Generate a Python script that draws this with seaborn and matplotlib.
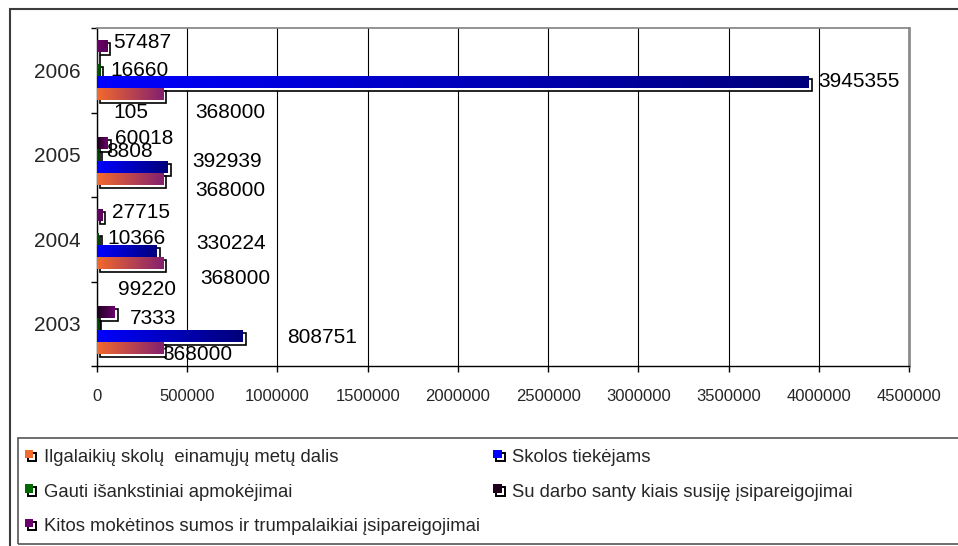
import numpy as np
import pandas as pd
import matplotlib
matplotlib.use('Agg')
import matplotlib.pyplot as plt
import matplotlib.transforms as mtransforms
import seaborn as sns
from matplotlib.patches import Rectangle
from matplotlib.colors import LinearSegmentedColormap, to_hex
from matplotlib.legend_handler import HandlerBase

# data (years listed top to bottom, as in the chart)
years = ['2006', '2005', '2004', '2003']
ilgalaikiu = [368000, 368000, 368000, 368000]
skolos = [3945355, 392939, 330224, 808751]
gauti = [16660, 8808, 10366, 7333]
su_darbo = [105, 60018, np.nan, 99220]
kitos = [57487, np.nan, 27715, np.nan]

names = {
    'ilg': 'Ilgalaikių skolų  einamųjų metų dalis',
    'sko': 'Skolos tiekėjams',
    'gau': 'Gauti išankstiniai apmokėjimai',
    'sud': 'Su darbo santy kiais susiję įsipareigojimai',
    'kit': 'Kitos mokėtinos sumos ir trumpalaikiai įsipareigojimai',
}
values = {'ilg': ilgalaikiu, 'sko': skolos, 'gau': gauti, 'sud': su_darbo, 'kit': kitos}
x_ticks = [0, 500000, 1000000, 1500000, 2000000, 2500000, 3000000, 3500000, 4000000, 4500000]

# gradient colours (left -> right) for each series
grads = {
    'ilg': ['#f26a2c', '#84206f'],
    'sko': ['#0000ff', '#00007a'],
    'gau': ['#006a00', '#003a00'],
    'sud': ['#1c001c', '#6e006e'],
    'kit': ['#6a006a', '#560056'],
}
bar_order = ['kit', 'sud', 'gau', 'sko', 'ilg']   # top to bottom inside a year

# where Excel put each value label: pixels right of bar end, pixels below bar centre
label_offsets = {
    ('kit', '2006'): (6, -4), ('gau', '2006'): (10, 0), ('sko', '2006'): (9, -1),
    ('sud', '2006'): (16, 54), ('ilg', '2006'): (32, 18),
    ('sud', '2005'): (7, -4), ('gau', '2005'): (8, -3), ('sko', '2005'): (24, -5),
    ('ilg', '2005'): (32, 12),
    ('kit', '2004'): (10, -3), ('gau', '2004'): (9, -1), ('sko', '2004'): (40, -8),
    ('ilg', '2004'): (37, 15),
    ('sud', '2003'): (3, -22), ('gau', '2003'): (32, -5), ('sko', '2003'): (44, 2),
    ('ilg', '2003'): (-1, 7),
}

rows = []
for key in bar_order:
    for yr, v in zip(years, values[key]):
        rows.append({'year': yr, 'series': key, 'value': v})
df = pd.DataFrame(rows).dropna()

sns.set_theme(style='white')
plt.rcParams['font.family'] = ['Liberation Sans', 'DejaVu Sans']

fig = plt.figure(figsize=(9.58, 5.46), dpi=100)
W, H = 958, 546
ax = fig.add_axes([97 / W, 1 - 366 / H, (909 - 97) / W, (366 - 28) / H])

palette = {k: grads[k][0] for k in bar_order}
sns.barplot(data=df, x='value', y='year', hue='series', order=years, hue_order=bar_order,
            palette=palette, orient='h', width=0.71, gap=0.04, errorbar=None,
            saturation=1, legend=False, ax=ax)

color_to_key = {to_hex(grads[k][0]): k for k in bar_order}
off = mtransforms.ScaledTranslation(3 / 100, -3 / 100, fig.dpi_scale_trans)
gradient = np.linspace(0, 1, 256).reshape(1, -1)
centres = {}
for p in list(ax.patches):
    w = p.get_width()
    if not np.isfinite(w):
        continue
    key = color_to_key.get(to_hex(p.get_facecolor()))
    if key is None:
        continue
    x0, y0, h = p.get_x(), p.get_y(), p.get_height()
    centres[(key, years[int(round(y0 + h / 2))])] = (x0 + w, y0 + h / 2)
    shadow = Rectangle((x0, y0), w, h, transform=ax.transData + off,
                       facecolor='white', edgecolor='black', lw=1.2, zorder=2)
    ax.add_patch(shadow)
    p.set_zorder(2.5)
    p.set_edgecolor('none')
    cmap = LinearSegmentedColormap.from_list(key, grads[key])
    im = ax.imshow(gradient, extent=(x0, x0 + w, y0 + h, y0), cmap=cmap,
                   aspect='auto', zorder=3, interpolation='bilinear')
    im.set_clip_path(p)

for key in bar_order:
    for yr, v in zip(years, values[key]):
        if np.isnan(v):
            continue
        xe, yc = centres[(key, yr)]
        dx, dy = label_offsets[(key, yr)]
        ax.annotate(f'{int(v)}', xy=(xe, yc), xytext=(dx, -dy), textcoords='offset pixels',
                    ha='left', va='center', fontsize=15, color='black', zorder=5,
                    annotation_clip=False)

ax.set_xlim(0, 4500000)
ax.set_ylim(3.5, -0.5)
ax.set_xlabel('')
ax.set_ylabel('')
ax.set_axisbelow(True)
ax.xaxis.grid(True, color='black', lw=0.8)
ax.yaxis.grid(False)
ax.set_xticks(x_ticks, labels=[str(t) for t in x_ticks])
ax.tick_params(axis='x', length=4.3, width=1, color='black', labelsize=12, pad=12.5,
               direction='out', bottom=True)
ax.set_yticks(range(len(years)), labels=years)
ax.set_yticks(np.arange(-0.5, len(years)), minor=True)
ax.tick_params(axis='y', which='major', length=0, labelsize=15, pad=12)
ax.tick_params(axis='y', which='minor', length=4.3, width=1, color='black', direction='out', left=True)
for s in ['left', 'bottom']:
    ax.spines[s].set_color('black')
    ax.spines[s].set_linewidth(1)
ax.spines['top'].set_color('#808080')
ax.spines['top'].set_linewidth(1.2)
ax.spines['right'].set_color('#8c8c8c')
ax.spines['right'].set_linewidth(2)


class ShadowSquare(HandlerBase):
    def create_artists(self, legend, orig_handle, xdescent, ydescent, width, height, fontsize, trans):
        s = 6.2
        x = width - s - 2.4
        y = (height - s) / 2 - ydescent + 1.2
        back = Rectangle((x + 2.2, y - 2.2), s, s, facecolor='white', edgecolor='black', lw=1.4, transform=trans)
        front = Rectangle((x, y), s, s, facecolor=orig_handle.get_facecolor(), edgecolor='none', transform=trans)
        return [back, front]


legend_order = ['ilg', 'gau', 'kit', 'sko', 'sud']
handles = [Rectangle((0, 0), 1, 1, facecolor=grads[k][0]) for k in legend_order]
fig.legend(handles, [names[k] for k in legend_order], ncol=2, loc='upper left',
           bbox_to_anchor=(20 / W, 1 - 449 / H), frameon=False, fontsize=13.3,
           handler_map={Rectangle: ShadowSquare()}, handlelength=0.9, handletextpad=0.4,
           labelspacing=0.95, columnspacing=0.45, borderpad=0, borderaxespad=0)

fig.add_artist(Rectangle((10 / W, -0.1), 1.2, 1 - 9 / H + 0.1, transform=fig.transFigure,
                         fill=False, edgecolor='#3c3c3c', lw=1.5))
fig.add_artist(Rectangle((18 / W, 1 - 544 / H), 1.2, (544 - 438) / H, transform=fig.transFigure,
                         fill=False, edgecolor='#555555', lw=1.2))

fig.savefig('out.png', dpi=100, facecolor='white')
